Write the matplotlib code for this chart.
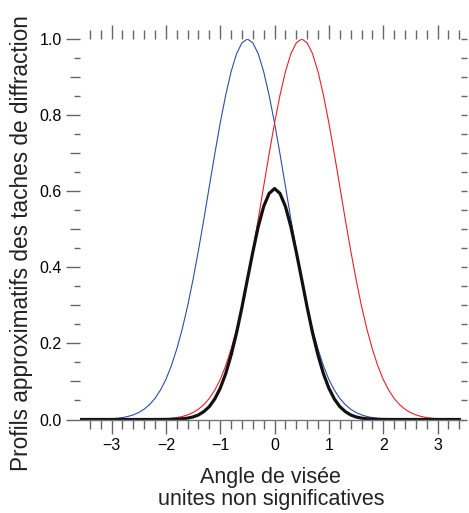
import numpy as np
import matplotlib
matplotlib.use("Agg")
import matplotlib.pyplot as plt
from matplotlib.ticker import MultipleLocator, FixedLocator, FormatStrFormatter

# sample positions (angle, arbitrary units)
angle = np.linspace(-3.6, 3.4, 71)

blue_profile = [
    0.0000, 0.0001, 0.0002, 0.0004, 0.0007, 0.0012, 0.0019, 0.0032, 0.0050, 0.0079,
    0.0122, 0.0183, 0.0271, 0.0392, 0.0556, 0.0773, 0.105, 0.141, 0.185, 0.237,
    0.298, 0.368, 0.445, 0.527, 0.613, 0.698, 0.779, 0.852, 0.914, 0.961,
    0.990, 1.000, 0.990, 0.961, 0.914, 0.852, 0.779, 0.698, 0.613, 0.527,
    0.445, 0.368, 0.298, 0.237, 0.185, 0.141, 0.105, 0.0773, 0.0556, 0.0392,
    0.0271, 0.0183, 0.0122, 0.0079, 0.0050, 0.0032, 0.0019, 0.0012, 0.0007, 0.0004,
    0.0002, 0.0001, 0.0, 0.0, 0.0, 0.0, 0.0, 0.0, 0.0, 0.0, 0.0,
]

red_profile = [
    0.0, 0.0, 0.0, 0.0, 0.0, 0.0, 0.0, 0.0, 0.0, 0.0, 0.0,
    0.0001, 0.0002, 0.0004, 0.0007, 0.0012, 0.0019, 0.0032, 0.0050, 0.0079, 0.0122,
    0.0183, 0.0271, 0.0392, 0.0556, 0.0773, 0.105, 0.141, 0.185, 0.237, 0.298,
    0.368, 0.445, 0.527, 0.613, 0.698, 0.779, 0.852, 0.914, 0.961, 0.990,
    1.000, 0.990, 0.961, 0.914, 0.852, 0.779, 0.698, 0.613, 0.527, 0.445,
    0.368, 0.298, 0.237, 0.185, 0.141, 0.105, 0.0773, 0.0556, 0.0392, 0.0271,
    0.0183, 0.0122, 0.0079, 0.0050, 0.0032, 0.0019, 0.0012, 0.0007, 0.0004, 0.0002,
]

black_profile = [
    0.0, 0.0, 0.0, 0.0, 0.0, 0.0, 0.0, 0.0, 0.0, 0.0, 0.0, 0.0, 0.0, 0.0, 0.0,
    0.0001, 0.0002, 0.0004, 0.0009, 0.0019, 0.0036, 0.0067, 0.012, 0.021, 0.034,
    0.054, 0.082, 0.120, 0.169, 0.227, 0.295, 0.368, 0.440, 0.507, 0.560,
    0.594, 0.607, 0.594, 0.560, 0.507, 0.440, 0.368, 0.295, 0.227, 0.169,
    0.120, 0.082, 0.054, 0.034, 0.021, 0.012, 0.0067, 0.0036, 0.0019, 0.0009,
    0.0004, 0.0002, 0.0001,
    0.0, 0.0, 0.0, 0.0, 0.0, 0.0, 0.0, 0.0, 0.0, 0.0, 0.0, 0.0, 0.0,
]

y_ticks = [0.0, 0.2, 0.4, 0.6, 0.8, 1.0]
x_ticks = [-3, -2, -1, 0, 1, 2, 3]

plt.rcParams['font.family'] = ['Liberation Sans', 'DejaVu Sans']

fig = plt.figure(figsize=(4.69, 5.13), dpi=100)
ax = fig.add_axes([80 / 469, 1 - 419.5 / 513, (461.5 - 80) / 469, (419.5 - 39) / 513])

ax.plot(angle, blue_profile, color='#2e4ea6', lw=0.8)
ax.plot(angle, red_profile, color='#e8202a', lw=0.8)
ax.plot(angle, black_profile, color='#111111', lw=2.3)

ax.set_xlim(-3.58, 3.44)
ax.set_ylim(0.0, 1.0)

tick_grey = '#666666'
for s in ['left', 'right', 'top']:
    ax.spines[s].set_visible(False)
ax.spines['bottom'].set_color('#777777')
ax.spines['bottom'].set_linewidth(1.0)

ax.xaxis.set_major_locator(FixedLocator(x_ticks))
ax.xaxis.set_minor_locator(MultipleLocator(0.2))
ax.set_xticklabels([str(t).replace('-', '\u2212') for t in x_ticks])
ax.yaxis.set_major_locator(FixedLocator(y_ticks))
ax.yaxis.set_major_formatter(FormatStrFormatter('%.1f'))
ax.yaxis.set_minor_locator(FixedLocator([0.05, 0.15, 0.25, 0.35, 0.45, 0.55, 0.65, 0.75, 0.85, 0.95]))

ax.tick_params(axis='x', which='major', direction='out', length=10, width=1.0,
               color=tick_grey, top=True, bottom=True, labelsize=11.5, pad=3)
ax.tick_params(axis='x', which='minor', direction='out', length=6.5, width=1.0,
               color=tick_grey, top=True, bottom=True)
ax.tick_params(axis='y', which='major', direction='out', length=10, width=1.0,
               color=tick_grey, left=True, right=False, labelsize=11.5, pad=3)
ax.tick_params(axis='y', which='minor', direction='out', length=4, width=1.0,
               color=tick_grey, left=True, right=False)

# medium left ticks at odd tenths
sec = ax.secondary_yaxis('left')
sec.spines['left'].set_visible(False)
sec.yaxis.set_major_locator(FixedLocator([0.1, 0.3, 0.5, 0.7, 0.9]))
sec.tick_params(axis='y', which='major', direction='out', length=7, width=1.0,
                color=tick_grey, labelleft=False)
sec.tick_params(axis='y', which='minor', length=0)

# right side ticks
ax2 = ax.twinx()
ax2.set_ylim(0.0, 1.0)
for s in ['left', 'right', 'top', 'bottom']:
    ax2.spines[s].set_visible(False)
ax2.yaxis.set_major_locator(MultipleLocator(0.05))
ax2.tick_params(axis='y', which='major', direction='out', length=4.5, width=1.0,
                color=tick_grey, labelright=False)
ax2.tick_params(axis='y', which='minor', length=0)

ax.set_xlabel('Angle de visée\nunites non significatives', fontsize=15.5,
              linespacing=1.08, color='#222222')
ax.xaxis.set_label_coords(0.5, -0.124)
ax.set_ylabel('Profils approximatifs des taches de diffraction', fontsize=16.3,
              color='#222222', ha='center', va='center')
ax.yaxis.set_label_coords((21.5 - 80) / 381.5, (419.5 - 243) / 380.5)

fig.savefig('out.png', dpi=100)
